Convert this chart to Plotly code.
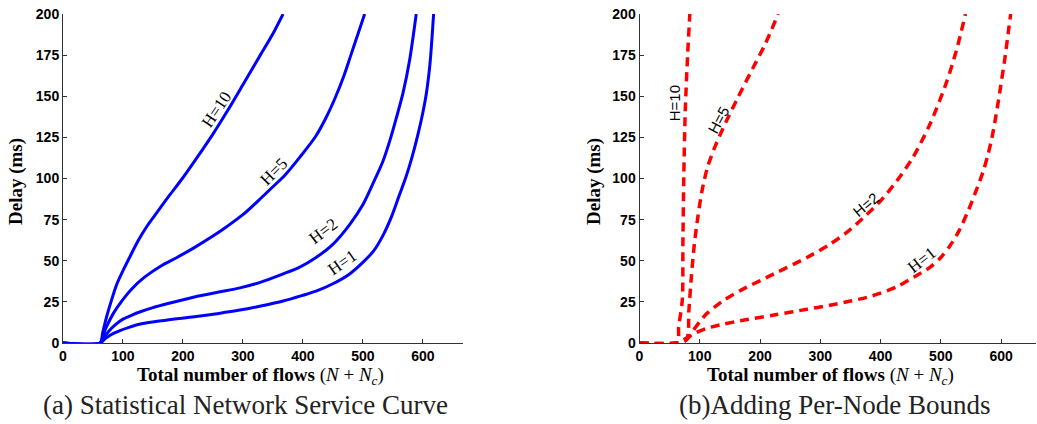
import plotly.graph_objects as go

# ---- data ----
# (a) Statistical Network Service Curve
a_h10_x = [0, 62, 66, 72, 80, 90, 100, 111, 125, 140, 158, 178, 199, 224, 250, 274, 300, 329, 350, 367]
a_h10_y = [0, 0, 6, 15, 25, 36, 44, 52, 62, 71, 80, 90, 100, 113, 127, 141, 157, 175, 188, 200]
a_h5_x = [0, 62, 67, 74, 84, 97, 115, 136, 164, 190, 219, 250, 274, 300, 330, 350, 370, 395, 422, 440, 455, 468, 480, 492, 503]
a_h5_y = [0, 0, 5, 11, 18, 25, 33, 40, 47, 52, 58, 65, 71, 78, 88, 95, 102, 113, 126, 138, 150, 162, 175, 188, 200]
a_h2_x = [0, 62, 68, 76, 87, 100, 115, 129, 150, 175, 219, 260, 295, 330, 367, 394, 422, 450, 478, 500, 517, 533, 545, 556, 567, 578, 589]
a_h2_y = [0, 0, 3, 7, 11, 14.5, 17, 19, 21.5, 24, 28, 31, 33.5, 37, 42, 46, 52, 60, 72, 84, 97, 110, 123, 137, 152, 172, 200]
a_h1_x = [0, 62, 70, 80, 95, 110, 129, 164, 219, 260, 295, 330, 367, 400, 422, 450, 478, 500, 518, 533, 548, 560, 572, 582, 592, 600, 606, 612, 618]
a_h1_y = [0, 0, 2.5, 5, 7.5, 9.5, 11.5, 13.5, 16, 18, 20, 22.5, 25.5, 29, 31.5, 36, 42, 49, 56, 65, 77, 89, 101, 113, 127, 140, 152, 170, 200]

# (b) Adding Per-Node Bounds
b_h10_x = [0, 62, 65, 71, 72, 73.5, 76, 80, 83.5]
b_h10_y = [0, 0, 10, 26, 60, 101, 142, 176, 200]
b_h5_x = [0, 62, 78, 82, 86, 91, 97, 104, 113, 126, 143, 163, 188, 209, 230]
b_h5_y = [0, 0, 2, 20, 40, 60, 77, 93, 107, 120, 134, 149, 167, 182, 200]
b_h2_x = [0, 62, 78, 90, 100, 112, 140, 168, 223, 278, 316, 345, 371, 399, 426, 454, 482, 509, 526, 541]
b_h2_y = [0, 0, 2, 8, 13, 18, 26, 32, 42, 52, 60, 67.5, 76, 86, 98, 113, 133, 158, 178, 200]
b_h1_x = [0, 62, 78, 95, 112, 140, 167, 223, 278, 316, 350, 385, 426, 455, 482, 500, 515, 530, 545, 558, 570, 578, 585, 591, 596, 601, 606, 611, 616]
b_h1_y = [0, 0, 3, 6.5, 9, 11.5, 13.5, 17, 20.5, 23, 25.5, 28.5, 34, 40, 46, 52, 59, 68, 80, 92, 104, 114, 125, 137, 148, 160, 172, 186, 200]

x_ticks = [0, 100, 200, 300, 400, 500, 600]
y_ticks = [0, 25, 50, 75, 100, 125, 150, 175, 200]

BLUE = "#0000ff"
RED = "#ff0000"

fig = go.Figure()

for xs, ys in [(a_h10_x, a_h10_y), (a_h5_x, a_h5_y), (a_h2_x, a_h2_y), (a_h1_x, a_h1_y)]:
    fig.add_trace(go.Scatter(x=xs, y=ys, mode="lines", xaxis="x", yaxis="y",
                             line=dict(color=BLUE, width=3, shape="spline", smoothing=0.8),
                             showlegend=False, hoverinfo="skip", cliponaxis=True))

for xs, ys in [(b_h10_x, b_h10_y), (b_h5_x, b_h5_y), (b_h2_x, b_h2_y), (b_h1_x, b_h1_y)]:
    fig.add_trace(go.Scatter(x=xs, y=ys, mode="lines", xaxis="x2", yaxis="y2",
                             line=dict(color=RED, width=3.5, dash="9px,6px", shape="spline", smoothing=0.8),
                             showlegend=False, hoverinfo="skip", cliponaxis=True))

tickfont = dict(family="Liberation Sans", size=14, color="black", weight="bold")
axis_common = dict(showgrid=False, zeroline=False, showline=True, linecolor="#333333",
                   linewidth=1, ticks="inside", ticklen=4, tickcolor="#333333",
                   tickfont=tickfont, mirror=False, automargin=False)

ydom = [1 - 343 / 424, 1 - 14 / 424]
fig.update_layout(
    template="none",
    width=1037, height=424,
    margin=dict(l=0, r=0, t=0, b=0, pad=0),
    paper_bgcolor="white", plot_bgcolor="white",
    xaxis=dict(domain=[63 / 1037, 463 / 1037], range=[0, 667], tickvals=x_ticks, anchor="y", **axis_common),
    yaxis=dict(domain=ydom, range=[0, 200], tickvals=y_ticks, anchor="x", **axis_common),
    xaxis2=dict(domain=[639.5 / 1037, 1036 / 1037], range=[0, 658], tickvals=x_ticks, anchor="y2", **axis_common),
    yaxis2=dict(domain=ydom, range=[0, 200], tickvals=y_ticks, anchor="x2", **axis_common),
)

serif = "Liberation Serif"
xtitle = "<b>Total number of flows</b> (<i>N</i> + <i>N</i><sub><i>c</i></sub>)"
ann = []
for cx, cyx in [(260, 16), (830, 594)]:
    ann.append(dict(x=cx / 1037, y=1 - 376 / 424, xref="paper", yref="paper", text=xtitle,
                    xanchor="center", yanchor="middle",
                    showarrow=False, font=dict(family=serif, size=19, color="black")))
    ann.append(dict(x=cyx / 1037, y=1 - 182 / 424, xref="paper", yref="paper", text="<b>Delay (ms)</b>",
                    xanchor="center", yanchor="middle",
                    textangle=-90, showarrow=False, font=dict(family=serif, size=19, color="black")))
ann.append(dict(x=245 / 1037, y=1 - 405 / 424, xref="paper", yref="paper",
                xanchor="center", yanchor="middle",
                text="(a) Statistical Network Service Curve", showarrow=False,
                font=dict(family=serif, size=27, color="#222222")))
ann.append(dict(x=834 / 1037, y=1 - 405 / 424, xref="paper", yref="paper",
                xanchor="center", yanchor="middle",
                text="(b)Adding Per-Node Bounds", showarrow=False,
                font=dict(family=serif, size=27, color="#222222")))

# curve labels
lab_a = [("H=10", 256, 142, -56, serif), ("H=5", 352, 104, -45, serif),
         ("H=2", 433, 68, -37, serif), ("H=1", 466, 49, -35, serif)]
for t, x, y, ang, fam in lab_a:
    ann.append(dict(x=x, y=y, xref="x", yref="y", text=t, textangle=ang, showarrow=False,
                    xanchor="center", yanchor="middle",
                    font=dict(family=fam, size=17, color="black")))
lab_b = [("H=10", 58, 146, -90, "Liberation Sans", 15), ("H=5", 131, 136, -62, "Liberation Sans", 15),
         ("H=2", 376, 84, -40, "Liberation Sans", 15), ("H=1", 468, 50, -38, serif, 17)]
for t, x, y, ang, fam, sz in lab_b:
    ann.append(dict(x=x, y=y, xref="x2", yref="y2", text=t, textangle=ang, showarrow=False,
                    xanchor="center", yanchor="middle",
                    font=dict(family=fam, size=sz, color="black")))
fig.update_layout(annotations=ann)

fig.write_html("out.html")
